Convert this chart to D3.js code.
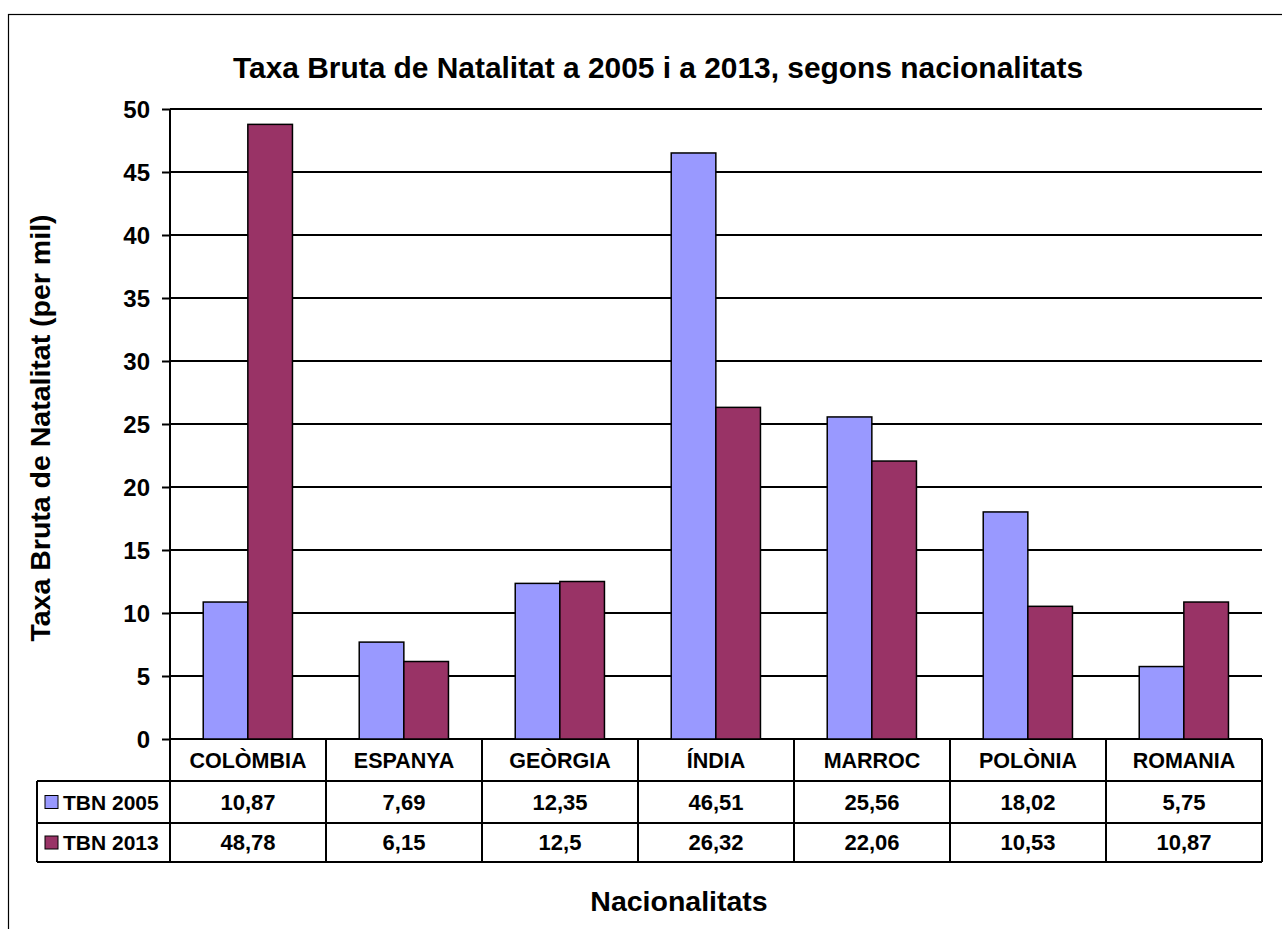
<!DOCTYPE html>
<html>
<head>
<meta charset="utf-8">
<script src="https://cdn.jsdelivr.net/npm/d3@7"></script>
<style>
  body { margin: 0; background: #fff; }
  text { font-family: "Liberation Sans", Arial, sans-serif; font-weight: bold; fill: #000; }
</style>
</head>
<body>
<svg id="chart" width="1282" height="929"></svg>
<script>
// data
const categories = ['COLÒMBIA', 'ESPANYA', 'GEÒRGIA', 'ÍNDIA', 'MARROC', 'POLÒNIA', 'ROMANIA'];
const seriesNames = ['TBN 2005', 'TBN 2013'];
const tbn2005 = [10.87, 7.69, 12.35, 46.51, 25.56, 18.02, 5.75];
const tbn2013 = [48.78, 6.15, 12.5, 26.32, 22.06, 10.53, 10.87];
const yTicks = [0, 5, 10, 15, 20, 25, 30, 35, 40, 45, 50];
const colors = ['#9999FF', '#993366'];

const series = [tbn2005, tbn2013];
const fmt = v => String(v).replace('.', ',');

const svg = d3.select('#chart');

// plot box
const plotL = 170, plotR = 1262, plotT = 109, plotB = 739;
const rowH = [42, 42, 39];   // category row, then one row per series
const legendLeft = 37;

// outer chart border
svg.append('rect')
  .attr('x', 8.5).attr('y', 14.5)
  .attr('width', 1400).attr('height', 1000)
  .attr('fill', 'none').attr('stroke', '#000').attr('stroke-width', 1.2);

const x0 = d3.scaleBand().domain(categories).range([plotL, plotR]);
const x1 = d3.scaleBand().domain(seriesNames)
  .range([x0.bandwidth() * 0.213, x0.bandwidth() * 0.785]);
const y = d3.scaleLinear().domain([0, 50]).range([plotB, plotT]);

// gridlines + y axis
const yAxis = d3.axisLeft(y).tickValues(yTicks).tickSize(8).tickPadding(12);
const gy = svg.append('g').attr('transform', `translate(${plotL},0)`).call(yAxis);
gy.select('.domain').remove();
gy.selectAll('.tick line').attr('stroke', '#000').attr('stroke-width', 2);
gy.selectAll('.tick text').style('font-size', '24px').attr('dy', '0.35em');

svg.append('g').selectAll('line').data(yTicks).join('line')
  .attr('x1', plotL).attr('x2', plotR)
  .attr('y1', d => y(d)).attr('y2', d => y(d))
  .attr('stroke', '#000').attr('stroke-width', 2);

// bars
const groups = svg.append('g').selectAll('g').data(categories).join('g')
  .attr('transform', d => `translate(${x0(d)},0)`);
groups.selectAll('rect')
  .data((c, i) => seriesNames.map((s, k) => ({ s, k, v: series[k][i] })))
  .join('rect')
  .attr('x', d => x1(d.s))
  .attr('width', x1.bandwidth())
  .attr('y', d => y(d.v))
  .attr('height', d => y(0) - y(d.v))
  .attr('fill', d => colors[d.k])
  .attr('stroke', '#000').attr('stroke-width', 1.5);

// data table under the axis
const rowY = [plotB];
rowH.forEach(h => rowY.push(rowY[rowY.length - 1] + h));
const tableBottom = rowY[rowY.length - 1];
const table = svg.append('g');

// horizontal rules
rowY.slice(1).forEach(yy => {
  table.append('line')
    .attr('x1', legendLeft).attr('x2', plotR)
    .attr('y1', yy).attr('y2', yy)
    .attr('stroke', '#000').attr('stroke-width', 2);
});
// vertical rules
const boundaries = categories.map(c => x0(c) + x0.bandwidth());
boundaries.forEach(xx => {
  table.append('line')
    .attr('x1', xx).attr('x2', xx).attr('y1', plotB).attr('y2', tableBottom)
    .attr('stroke', '#000').attr('stroke-width', 2);
});
table.append('line')
  .attr('x1', legendLeft).attr('x2', legendLeft).attr('y1', rowY[1]).attr('y2', tableBottom)
  .attr('stroke', '#000').attr('stroke-width', 2);

// category names
table.selectAll('text.cat').data(categories).join('text')
  .attr('class', 'cat')
  .attr('x', d => x0(d) + x0.bandwidth() / 2)
  .attr('y', (rowY[0] + rowY[1]) / 2)
  .attr('dy', '0.36em')
  .attr('text-anchor', 'middle')
  .style('font-size', '21.5px')
  .text(d => d);

// series rows
seriesNames.forEach((s, k) => {
  const cy = (rowY[k + 1] + rowY[k + 2]) / 2;
  table.append('rect')
    .attr('x', 45).attr('y', cy - 6.5).attr('width', 13).attr('height', 13)
    .attr('fill', colors[k]).attr('stroke', '#000').attr('stroke-width', 1);
  table.append('text')
    .attr('x', 63).attr('y', cy).attr('dy', '0.36em')
    .style('font-size', '21px')
    .text(s);
  table.selectAll(null).data(series[k]).join('text')
    .attr('x', (d, i) => x0(categories[i]) + x0.bandwidth() / 2)
    .attr('y', cy).attr('dy', '0.36em')
    .attr('text-anchor', 'middle')
    .style('font-size', '22px')
    .text(d => fmt(d));
});

// y axis line, running down through the table
svg.append('line')
  .attr('x1', plotL).attr('x2', plotL).attr('y1', plotT).attr('y2', tableBottom)
  .attr('stroke', '#000').attr('stroke-width', 2);

// titles
svg.append('text')
  .attr('x', 658).attr('y', 78)
  .attr('text-anchor', 'middle')
  .style('font-size', '29.9px')
  .text('Taxa Bruta de Natalitat a 2005 i a 2013, segons nacionalitats');

svg.append('text')
  .attr('transform', 'translate(50,428) rotate(-90)')
  .attr('text-anchor', 'middle')
  .style('font-size', '28.5px')
  .text('Taxa Bruta de Natalitat (per mil)');

svg.append('text')
  .attr('x', 679).attr('y', 911)
  .attr('text-anchor', 'middle')
  .style('font-size', '28.5px')
  .text('Nacionalitats');
</script>
</body>
</html>
